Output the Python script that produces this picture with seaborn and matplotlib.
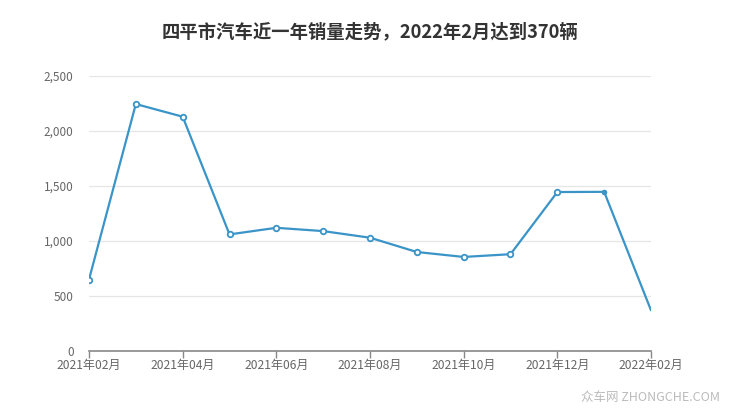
import matplotlib
matplotlib.use("Agg")
import matplotlib.pyplot as plt
import seaborn as sns
import pandas as pd
import numpy as np

months = ["2021年02月", "2021年03月", "2021年04月", "2021年05月", "2021年06月", "2021年07月",
          "2021年08月", "2021年09月", "2021年10月", "2021年11月", "2021年12月", "2022年01月", "2022年02月"]
sales = [650, 2245, 2130, 1060, 1120, 1090, 1030, 900, 855, 880, 1445, 1447, 370]
yticks = [0, 500, 1000, 1500, 2000, 2500]
title = "四平市汽车近一年销量走势，2022年2月达到370辆"

sns.set_theme(style="white")
plt.rcParams['font.family'] = ['Noto Sans CJK SC', 'DejaVu Sans']

df = pd.DataFrame({"idx": np.arange(len(months)), "month": months, "sales": sales})

fig = plt.figure(figsize=(7.4, 4.17), dpi=100)
ax = fig.add_axes([89/740, 1-351/417, (651-89)/740, (351-76)/417])

color = "#3a94c8"
sns.lineplot(data=df, x="idx", y="sales", ax=ax, color=color, linewidth=1.6)
sub = df.iloc[:-2]
ax.plot(sub["idx"], sub["sales"], linestyle="none", marker="o", markersize=4,
        markerfacecolor="white", markeredgecolor=color, markeredgewidth=1.3)
ax.plot(df["idx"].iloc[-2:-1], df["sales"].iloc[-2:-1], linestyle="none", marker="o",
        markersize=3, color=color)

ax.set_xlim(0, len(months) - 1)
ax.set_ylim(0, 2500)
ax.set_yticks(yticks)
ax.set_yticklabels([f"{v:,}" for v in yticks], fontsize=8.5, color="#666666")
tick_idx = list(range(0, len(months), 2))
ax.set_xticks(tick_idx)
ax.set_xticklabels([months[i] for i in tick_idx], fontsize=8.7, color="#666666")
ax.set_xlabel("")
ax.set_ylabel("")
ax.grid(axis="y", color="#e6e6e6", linewidth=0.9)
ax.set_axisbelow(True)
for s in ["top", "right", "left"]:
    ax.spines[s].set_visible(False)
ax.spines["bottom"].set_color("#888888")
ax.spines["bottom"].set_linewidth(1.2)
ax.tick_params(axis="x", which="major", bottom=True, length=5, color="#888888", width=1, pad=1)
ax.tick_params(axis="y", left=False, pad=5)

fig.text(370/740, 1-32/417, title, ha="center", va="center", fontsize=13.2,
         fontweight="bold", color="#333333")
fig.text(720/740, 1-398/417, "众车网 ZHONGCHE.COM", ha="right", va="center", fontsize=9,
         color="#bbbbbb")

fig.savefig("out.png", dpi=100)
